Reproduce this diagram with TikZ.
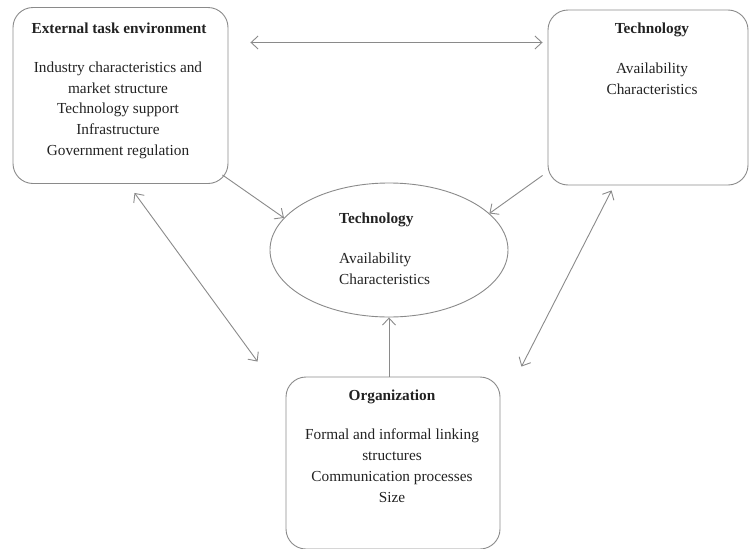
\documentclass[tikz,border=0pt]{standalone}
\usepackage{fontspec}
\setmainfont{Liberation Serif}
\usetikzlibrary{arrows.meta,calc,shapes.geometric}
\definecolor{edge}{HTML}{8A8A8A}
\definecolor{ink}{HTML}{222222}
\begin{document}
\begin{tikzpicture}[x=1pt,y=-1pt,
  box/.style={draw=edge,line width=0.9pt,rounded corners=20pt,inner sep=0pt},
  ovalbox/.style={draw=edge,line width=0.9pt,ellipse,inner sep=0pt},
  ttl/.style={font=\fontsize{15.3}{20.7}\selectfont\bfseries,text=ink,inner sep=0pt,anchor=base},
  body/.style={font=\fontsize{15.3}{20.7}\selectfont,text=ink,inner sep=0pt,align=center,anchor=north},
  conn/.style={draw=edge,line width=0.9pt},
  tip/.style={-{Straight Barb[length=7pt,width=13pt,line width=0.9pt]}},
  bitip/.style={{Straight Barb[length=7pt,width=13pt,line width=0.9pt]}-{Straight Barb[length=7pt,width=13pt,line width=0.9pt]}}
]
\useasboundingbox (0,0) rectangle (750,549);
% shapes
\node[box,minimum width=215pt,minimum height=176pt] (b1) at (120.5,95.5) {};
\node[box,minimum width=200pt,minimum height=175pt] (b2) at (648,97.5) {};
\node[ovalbox,minimum width=238pt,minimum height=134pt] (ell) at (389,250) {};
\node[box,minimum width=214pt,minimum height=172pt] (b3) at (393,463) {};
% texts
\node[ttl] (t1) at (119,33) {External task environment};
\node[body] (x1) at (118,61.5) {Industry characteristics and\\market structure\\Technology support\\Infrastructure\\Government regulation};
\node[ttl] (t2) at (652,33) {Technology};
\node[body] (x2) at (652,62.5) {Availability\\Characteristics};
\node[ttl,anchor=base west] (t3) at (339,223) {Technology};
\node[body,align=left,anchor=north west] (x3) at (339,252.5) {Availability\\Characteristics};
\node[ttl] (t4) at (392,400) {Organization};
\node[body] (x4) at (392,429) {Formal and informal linking\\structures\\Communication processes\\Size};
% connector end points
\coordinate (p1a) at ($(b1.east)+(22,-53)$);
\coordinate (p1b) at ($(b2.west)+(-5,-55)$);
\coordinate (p2a) at ($(b1.south east)+(-6,-9)$);
\coordinate (p3a) at ($(b2.south west)+(-5,-10)$);
\coordinate (p4a) at ($(b1.south)+(14,9)$);
\coordinate (p4b) at ($(b3.north west)+(-28,-15)$);
\coordinate (p6a) at ($(b2.south west)+(64,5)$);
\coordinate (p6b) at ($(b3.north east)+(21,-10)$);
% connectors
\draw[conn,bitip] (p1a) -- (p1b);
\draw[conn,tip] (p2a) -- (ell.163);
\draw[conn,tip] (p3a) -- (ell.20);
\draw[conn,bitip] (p4a) -- (p4b);
\draw[conn,tip] (ell.south |- b3.north) -- (ell.south);
\draw[conn,bitip] (p6a) -- (p6b);
\end{tikzpicture}
\end{document}
